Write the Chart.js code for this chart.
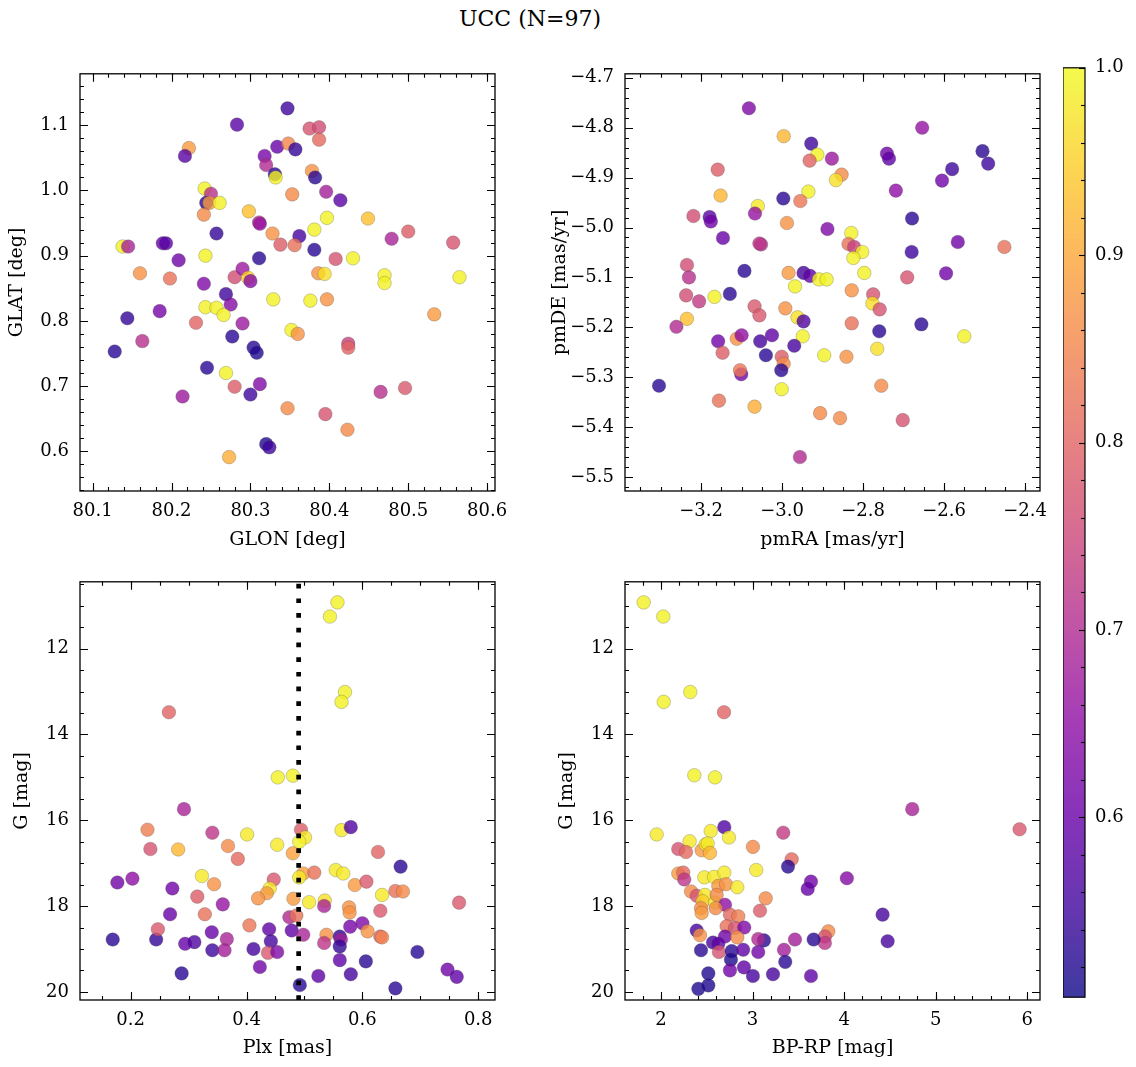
<!DOCTYPE html>
<html><head><meta charset="utf-8">
<script src="https://cdn.jsdelivr.net/npm/chart.js@4.4.1/dist/chart.umd.min.js"></script>
<style>
html,body{margin:0;padding:0;background:#fff;width:1136px;height:1067px;overflow:hidden}
.box{position:absolute}
#title{position:absolute;left:0;width:1060px;top:6px;text-align:center;font:22px "DejaVu Serif",serif;color:#000}
</style></head><body>
<div id="title">UCC (N=97)</div>
<script>
// ---------------- DATA ----------------
const glon = [80.347,80.283,80.375,80.387,80.387,80.222,80.217,80.334,80.348,80.357,80.318,80.320,80.331,80.332,80.378,80.382,80.396,80.414,80.242,80.250,80.244,80.248,80.261,80.353,80.241,80.298,80.311,80.312,80.397,80.449,80.381,80.328,80.257,80.362,80.338,80.356,80.381,80.500,80.479,80.557,80.138,80.145,80.189,80.193,80.311,80.243,80.209,80.408,80.430,80.160,80.198,80.280,80.290,80.297,80.300,80.386,80.394,80.470,80.470,80.565,80.241,80.269,80.275,80.243,80.257,80.266,80.329,80.376,80.397,80.533,80.144,80.185,80.231,80.290,80.277,80.352,80.360,80.128,80.163,80.304,80.308,80.424,80.424,80.245,80.269,80.280,80.312,80.300,80.214,80.465,80.496,80.347,80.395,80.423,80.320,80.324,80.273];
const glat = [1.126,1.101,1.095,1.097,1.078,1.065,1.053,1.067,1.072,1.063,1.053,1.039,1.025,1.020,1.030,1.020,0.998,0.985,1.003,0.995,0.981,0.981,0.981,0.994,0.963,0.968,0.951,0.949,0.958,0.957,0.940,0.934,0.934,0.930,0.917,0.916,0.909,0.937,0.926,0.920,0.914,0.914,0.919,0.919,0.896,0.900,0.893,0.895,0.896,0.873,0.865,0.867,0.880,0.866,0.861,0.873,0.872,0.870,0.858,0.867,0.857,0.841,0.825,0.821,0.820,0.809,0.833,0.831,0.833,0.810,0.804,0.815,0.797,0.796,0.776,0.786,0.780,0.753,0.769,0.759,0.751,0.765,0.759,0.728,0.720,0.699,0.703,0.687,0.684,0.691,0.697,0.666,0.657,0.633,0.611,0.606,0.591];
const probSky = [0.55,0.58,0.77,0.76,0.81,0.88,0.58,0.60,0.85,0.54,0.62,0.70,0.53,0.99,0.87,0.53,0.68,0.58,0.99,0.71,0.53,0.88,0.99,0.86,0.86,0.93,0.72,0.66,0.99,0.93,0.99,0.87,0.54,0.56,0.79,0.82,0.53,0.79,0.69,0.77,0.99,0.69,0.60,0.58,0.53,0.99,0.61,0.77,0.99,0.87,0.82,0.76,0.67,0.95,0.64,0.87,0.97,0.99,0.99,0.99,0.63,0.55,0.64,0.99,0.99,0.99,0.99,0.99,0.87,0.88,0.54,0.62,0.80,0.67,0.53,0.99,0.87,0.53,0.71,0.53,0.52,0.74,0.80,0.53,0.99,0.79,0.63,0.55,0.67,0.71,0.78,0.86,0.77,0.86,0.52,0.55,0.91];

const pmra = [-3.082,-2.654,-2.996,-2.928,-2.913,-2.932,-2.877,-2.741,-2.736,-2.505,-2.491,-2.580,-2.605,-3.159,-2.853,-2.867,-2.719,-3.152,-2.935,-2.997,-2.955,-3.060,-3.067,-3.219,-3.179,-3.176,-2.679,-2.988,-2.888,-2.829,-3.146,-2.566,-3.052,-3.056,-2.836,-2.822,-2.802,-2.824,-2.451,-2.680,-3.235,-3.230,-3.093,-2.984,-2.947,-2.931,-2.797,-2.909,-2.890,-2.691,-2.595,-2.968,-3.237,-3.205,-3.167,-3.129,-3.235,-3.261,-2.828,-2.775,-2.777,-2.759,-3.068,-3.056,-2.992,-2.962,-2.947,-2.828,-2.760,-2.656,-2.550,-3.158,-3.112,-3.100,-3.054,-3.025,-2.949,-2.970,-3.147,-3.040,-3.001,-2.996,-3.002,-2.896,-2.841,-2.765,-3.101,-3.104,-3.304,-3.001,-2.755,-3.156,-3.068,-2.906,-2.857,-2.702,-2.956];
const pmde = [-4.761,-4.800,-4.817,-4.832,-4.854,-4.866,-4.862,-4.852,-4.862,-4.847,-4.872,-4.883,-4.906,-4.884,-4.894,-4.905,-4.926,-4.936,-4.928,-4.942,-4.947,-4.957,-4.972,-4.977,-4.979,-4.988,-4.982,-4.991,-5.003,-5.011,-5.021,-5.029,-5.034,-5.032,-5.033,-5.039,-5.049,-5.061,-5.039,-5.049,-5.075,-5.100,-5.087,-5.091,-5.091,-5.097,-5.091,-5.104,-5.104,-5.100,-5.092,-5.118,-5.136,-5.148,-5.139,-5.133,-5.183,-5.199,-5.126,-5.134,-5.152,-5.164,-5.158,-5.176,-5.162,-5.180,-5.188,-5.192,-5.208,-5.194,-5.218,-5.228,-5.223,-5.216,-5.228,-5.216,-5.218,-5.237,-5.251,-5.256,-5.259,-5.273,-5.286,-5.256,-5.259,-5.243,-5.294,-5.286,-5.317,-5.324,-5.317,-5.347,-5.359,-5.372,-5.382,-5.386,-5.460];
const probPM = [0.63,0.66,0.92,0.55,0.99,0.80,0.67,0.61,0.59,0.53,0.55,0.55,0.61,0.79,0.86,0.97,0.65,0.92,0.99,0.53,0.83,0.98,0.66,0.76,0.58,0.61,0.53,0.87,0.63,0.99,0.60,0.61,0.71,0.72,0.82,0.74,0.99,0.99,0.82,0.55,0.76,0.71,0.53,0.88,0.56,0.59,0.99,0.99,0.99,0.77,0.61,0.99,0.76,0.73,0.99,0.53,0.93,0.70,0.87,0.77,0.97,0.77,0.78,0.78,0.87,0.97,0.57,0.82,0.53,0.53,0.99,0.61,0.87,0.65,0.56,0.59,0.99,0.56,0.79,0.53,0.79,0.86,0.53,0.99,0.87,0.97,0.61,0.83,0.53,0.99,0.86,0.82,0.91,0.86,0.86,0.77,0.70];

const plx = [0.557,0.544,0.570,0.564,0.266,0.454,0.480,0.292,0.229,0.234,0.282,0.341,0.368,0.385,0.401,0.453,0.480,0.494,0.501,0.491,0.564,0.580,0.627,0.666,0.177,0.203,0.272,0.323,0.344,0.315,0.359,0.447,0.440,0.435,0.420,0.498,0.491,0.517,0.481,0.508,0.554,0.567,0.587,0.607,0.535,0.534,0.634,0.657,0.670,0.767,0.169,0.244,0.247,0.268,0.294,0.310,0.328,0.340,0.341,0.366,0.362,0.405,0.412,0.423,0.439,0.442,0.437,0.453,0.474,0.486,0.478,0.498,0.492,0.524,0.538,0.534,0.561,0.563,0.561,0.561,0.579,0.577,0.578,0.580,0.600,0.609,0.606,0.631,0.631,0.634,0.657,0.695,0.747,0.763,0.288];
const gPlx = [10.92,11.25,13.01,13.24,13.48,15.00,14.96,15.74,16.22,16.67,16.68,16.29,16.60,16.90,16.33,16.57,16.77,16.22,16.40,16.50,16.23,16.16,16.74,17.08,17.45,17.36,17.59,17.30,17.49,17.78,17.96,17.38,17.59,17.70,17.82,17.24,17.33,17.22,17.83,17.91,17.16,17.24,17.51,17.43,17.87,18.00,17.74,17.65,17.66,17.92,18.78,18.78,18.54,18.19,18.88,18.84,18.19,18.61,19.03,18.77,19.03,18.45,19.00,19.42,18.54,18.82,19.09,19.07,18.26,18.22,18.57,18.67,19.84,19.63,18.67,18.86,18.71,18.78,18.94,19.26,18.48,18.03,18.15,19.59,18.40,18.59,19.29,18.11,18.71,18.73,19.92,19.07,19.48,19.65,19.57];
const probPlx = [0.99,0.99,0.99,0.99,0.80,0.99,0.99,0.69,0.84,0.77,0.92,0.72,0.86,0.81,0.98,0.98,0.89,0.79,0.98,0.99,0.98,0.57,0.80,0.53,0.61,0.65,0.61,0.98,0.87,0.79,0.66,0.78,0.98,0.88,0.87,0.89,0.98,0.82,0.88,0.98,0.98,0.98,0.88,0.78,0.97,0.69,0.98,0.82,0.86,0.78,0.53,0.54,0.78,0.60,0.60,0.57,0.82,0.60,0.55,0.69,0.68,0.83,0.56,0.61,0.59,0.56,0.78,0.63,0.70,0.82,0.59,0.69,0.53,0.59,0.87,0.72,0.53,0.68,0.54,0.59,0.62,0.87,0.87,0.56,0.63,0.87,0.53,0.78,0.80,0.85,0.53,0.53,0.61,0.59,0.53];
const plxRef = 0.49;

const bprp = [1.811,2.025,2.320,2.030,2.688,2.364,2.590,4.744,5.916,1.953,2.691,2.543,2.742,2.313,3.335,2.189,2.273,2.444,2.488,2.510,2.535,3.004,3.427,3.387,3.040,2.189,2.243,2.254,2.473,2.579,2.691,2.626,2.710,2.833,3.638,3.602,4.030,2.328,2.390,2.480,2.455,2.590,2.608,2.699,2.597,2.437,2.444,3.143,3.081,2.753,2.844,4.420,2.390,2.426,2.717,2.808,2.909,2.699,2.833,3.827,3.790,3.790,3.667,3.463,3.124,3.062,4.475,2.568,2.626,2.437,2.633,2.772,2.898,3.062,3.343,2.764,3.357,2.753,2.906,2.517,3.004,3.223,3.638,2.408,2.517];
const gCol = [10.92,11.25,13.01,13.24,13.48,14.95,15.00,15.74,16.21,16.33,16.16,16.25,16.40,16.49,16.29,16.67,16.74,16.70,16.56,16.54,16.76,16.62,16.91,17.08,17.16,17.24,17.22,17.38,17.33,17.32,17.22,17.53,17.49,17.56,17.43,17.60,17.35,17.66,17.76,17.74,17.89,17.92,17.74,17.97,18.05,18.05,18.16,17.82,18.11,18.20,18.24,18.20,18.57,18.68,18.47,18.51,18.50,18.71,18.73,18.59,18.71,18.86,18.78,18.78,18.80,18.77,18.82,18.85,18.88,19.03,19.07,19.05,19.02,19.07,19.02,19.25,19.30,19.50,19.43,19.57,19.63,19.59,19.63,19.93,19.85];
const probCol = [0.99,0.99,0.99,0.99,0.80,0.99,0.99,0.69,0.78,0.98,0.57,0.98,0.98,0.98,0.73,0.77,0.81,0.88,0.98,0.98,0.92,0.86,0.81,0.53,0.98,0.88,0.81,0.72,0.98,0.98,0.98,0.88,0.87,0.98,0.61,0.60,0.64,0.86,0.77,0.98,0.95,0.98,0.86,0.65,0.86,0.86,0.88,0.86,0.79,0.81,0.84,0.56,0.56,0.87,0.82,0.77,0.63,0.61,0.86,0.86,0.77,0.72,0.53,0.68,0.53,0.70,0.56,0.56,0.59,0.53,0.77,0.53,0.59,0.61,0.68,0.52,0.53,0.61,0.59,0.52,0.56,0.56,0.59,0.52,0.52];

const glonTicks = [80.1,80.2,80.3,80.4,80.5,80.6];
const glatTicks = [0.6,0.7,0.8,0.9,1.0,1.1];
const pmraTicks = [-3.2,-3.0,-2.8,-2.6,-2.4];
const pmdeTicks = [-5.5,-5.4,-5.3,-5.2,-5.1,-5.0,-4.9,-4.8,-4.7];
const plxTicks = [0.2,0.4,0.6,0.8];
const gTicks = [12,14,16,18,20];
const bprpTicks = [2,3,4,5,6];
const cbarTicks = [0.6,0.7,0.8,0.9,1.0];

// ---------------- STYLE ----------------
const FAM = '"DejaVu Serif", serif';
const TICK_FS = 18, TITLE_FS = 19;
const VMIN = 0.504, VMAX = 1.0, ALPHA = 0.8;
const PL = [[13,8,135],[65,4,157],[106,0,168],[143,13,164],[177,42,144],[204,71,120],[225,100,98],[242,132,75],[252,166,54],[252,206,37],[240,249,33]];
function plasma(t){
  t = Math.max(0, Math.min(1, t));
  const f = t*10, i = Math.min(9, Math.floor(f)), u = f - i;
  const a = PL[i], b = PL[i+1];
  return [0,1,2].map(k => a[k] + (b[k]-a[k])*u);
}
function cmap(p, alpha){
  const c = plasma((p - VMIN)/(VMAX - VMIN)).map(Math.round);
  return `rgba(${c[0]},${c[1]},${c[2]},${alpha})`;
}
function cmapOnWhite(p, alpha){
  const c = plasma((p - VMIN)/(VMAX - VMIN)).map(v => Math.round(alpha*v + (1-alpha)*255));
  return `rgb(${c[0]},${c[1]},${c[2]})`;
}
function fmt(d){ return v => { const s = Math.abs(v).toFixed(d); return (v < -1e-9 ? '\u2212' : '') + s; }; }
function range(a, b, step){ const out=[]; const n=Math.round((b-a)/step); for(let i=0;i<=n;i++) out.push(+(a+i*step).toFixed(6)); return out; }

const framePlugin = {
  id: 'frame',
  afterDraw(chart) {
    const o = chart.options.plugins.frame;
    if (!o) return;
    const {ctx, chartArea: a} = chart;
    const xs = chart.scales.x, ys = chart.scales.y;
    ctx.save();
    ctx.strokeStyle = '#000';
    ctx.lineWidth = 1.3;
    ctx.strokeRect(a.left, a.top, a.right - a.left, a.bottom - a.top);
    ctx.lineWidth = 1.1;
    const drawX = (vals, len) => {
      vals.forEach(v => {
        if (v < Math.min(xs.min, xs.max) || v > Math.max(xs.min, xs.max)) return;
        const p = Math.round(xs.getPixelForValue(v)) + 0.5;
        ctx.beginPath();
        ctx.moveTo(p, a.bottom); ctx.lineTo(p, a.bottom - len);
        ctx.moveTo(p, a.top); ctx.lineTo(p, a.top + len);
        ctx.stroke();
      });
    };
    const drawY = (vals, len) => {
      vals.forEach(v => {
        if (v < Math.min(ys.min, ys.max) || v > Math.max(ys.min, ys.max)) return;
        const p = Math.round(ys.getPixelForValue(v)) + 0.5;
        ctx.beginPath();
        ctx.moveTo(a.left, p); ctx.lineTo(a.left + len, p);
        ctx.moveTo(a.right, p); ctx.lineTo(a.right - len, p);
        ctx.stroke();
      });
    };
    drawX(o.xMajor, 8); drawX(o.xMinor, 4);
    drawY(o.yMajor, 8); drawY(o.yMinor, 4);
    ctx.restore();
  }
};

function axisCfg(ax, isX, sizeFn){
  return {
    type: 'linear', min: ax.min, max: ax.max, reverse: !!ax.reverse,
    afterBuildTicks: s => { s.ticks = ax.major.map(v => ({value: v})); },
    afterFit: sizeFn,
    ticks: { callback: ax.fmt, font: {family: FAM, size: TICK_FS}, color: '#000', padding: isX ? 10 : 11, maxRotation: 0, autoSkip: false },
    grid: { display: false, drawTicks: false },
    border: { display: false },
    title: { display: true, text: ax.title, font: {family: FAM, size: TITLE_FS}, color: '#000', padding: 0 }
  };
}

function makePanel(cfg){
  const lh = TITLE_FS * 1.2;
  const padTop = 20, padRight = 34;
  const cl = Math.round(cfg.yTitleX - lh/2);
  const ct = cfg.area.T - padTop;
  const cw = cfg.area.R + padRight - cl;
  const ch = Math.round(cfg.xTitleY + lh/2) - ct;
  const yW = cfg.area.L - cl;
  const xH = ct + ch - cfg.area.B;
  const div = document.createElement('div');
  div.className = 'box';
  div.style.left = cl + 'px'; div.style.top = ct + 'px';
  div.style.width = cw + 'px'; div.style.height = ch + 'px';
  const cv = document.createElement('canvas');
  cv.width = cw; cv.height = ch;
  cv.style.width = cw + 'px'; cv.style.height = ch + 'px';
  div.appendChild(cv);
  document.body.appendChild(div);
  const pts = cfg.xs.map((x, i) => ({x, y: cfg.ys[i]}));
  const datasets = (cfg.extra || []).concat([{
    type: 'scatter', data: pts, order: 1,
    pointRadius: 6.8, pointHoverRadius: 6.8,
    pointBackgroundColor: cfg.ps.map(p => cmap(p, ALPHA)),
    pointBorderColor: 'rgba(70,70,70,0.45)', pointBorderWidth: 0.6
  }]);
  new Chart(cv, {
    type: 'scatter',
    data: { datasets },
    options: {
      responsive: false, animation: false, devicePixelRatio: 1,
      layout: { padding: { left: 0, top: padTop, right: padRight, bottom: 0 } },
      plugins: { legend: {display: false}, tooltip: {enabled: false},
        frame: { xMajor: cfg.x.major, xMinor: cfg.x.minor, yMajor: cfg.y.major, yMinor: cfg.y.minor } },
      scales: {
        x: axisCfg(cfg.x, true, s => { s.height = xH; }),
        y: axisCfg(cfg.y, false, s => { s.width = yW; })
      }
    },
    plugins: [framePlugin]
  });
}

Chart.defaults.font.family = FAM;

makePanel({
  area: {L: 80, T: 72, R: 495, B: 491}, xTitleY: 540, yTitleX: 17,
  x: {min: 80.084, max: 80.61, major: glonTicks, minor: range(80.08, 80.62, 0.02), fmt: fmt(1), title: 'GLON [deg]'},
  y: {min: 0.539, max: 1.179, major: glatTicks, minor: range(0.54, 1.18, 0.02), fmt: fmt(1), title: 'GLAT [deg]'},
  xs: glon, ys: glat, ps: probSky
});
makePanel({
  area: {L: 625, T: 72, R: 1040, B: 491}, xTitleY: 540, yTitleX: 560,
  x: {min: -3.388, max: -2.363, major: pmraTicks, minor: range(-3.4, -2.35, 0.05), fmt: fmt(1), title: 'pmRA [mas/yr]'},
  y: {min: -5.528, max: -4.692, major: pmdeTicks, minor: range(-5.52, -4.70, 0.02), fmt: fmt(1), title: 'pmDE [mas/yr]'},
  xs: pmra, ys: pmde, ps: probPM
});
const G_MIN = 10.44, G_MAX = 20.19;
makePanel({
  area: {L: 80, T: 580, R: 495, B: 1000}, xTitleY: 1048, yTitleX: 22,
  x: {min: 0.1125, max: 0.829, major: plxTicks, minor: range(0.15, 0.80, 0.05), fmt: fmt(1), title: 'Plx [mas]'},
  y: {min: G_MIN, max: G_MAX, reverse: true, major: gTicks, minor: range(10.5, 20.0, 0.5), fmt: fmt(0), title: 'G [mag]'},
  xs: plx, ys: gPlx, ps: probPlx,
  extra: [{ type: 'line', order: 0, data: [{x: plxRef, y: G_MAX}, {x: plxRef, y: G_MIN}],
    borderColor: '#000', borderWidth: 4.7, borderDash: [4.7, 10], borderCapStyle: 'butt',
    pointRadius: 0, fill: false, showLine: true }]
});
makePanel({
  area: {L: 625, T: 580, R: 1040, B: 1000}, xTitleY: 1048, yTitleX: 567,
  x: {min: 1.607, max: 6.139, major: bprpTicks, minor: range(1.8, 6.0, 0.2), fmt: fmt(0), title: 'BP-RP [mag]'},
  y: {min: G_MIN, max: G_MAX, reverse: true, major: gTicks, minor: range(10.5, 20.0, 0.5), fmt: fmt(0), title: 'G [mag]'},
  xs: bprp, ys: gCol, ps: probCol
});

// ---------------- COLORBAR ----------------
(function(){
  const L = 1063, R = 1085, T = 67, B = 998, pad = 20;
  const cl = L, ct = T - pad, cw = 1136 - L, ch = (B + pad) - ct;
  const div = document.createElement('div');
  div.className = 'box';
  div.style.left = cl + 'px'; div.style.top = ct + 'px';
  div.style.width = cw + 'px'; div.style.height = ch + 'px';
  const cv = document.createElement('canvas');
  cv.width = cw; cv.height = ch; cv.style.width = cw + 'px'; cv.style.height = ch + 'px';
  div.appendChild(cv); document.body.appendChild(div);
  const levels = range(VMIN, VMAX, (VMAX - VMIN) / 256);
  const cbPlugin = {
    id: 'cb',
    beforeDatasetsDraw(chart){
      const {ctx, chartArea: a} = chart; const ys = chart.scales.y;
      ctx.save();
      ctx.beginPath(); ctx.rect(a.left, a.top, a.right - a.left, a.bottom - a.top); ctx.clip();
      for (let i = 0; i < levels.length - 1; i++) {
        const y0 = ys.getPixelForValue(levels[i]), y1 = ys.getPixelForValue(levels[i+1]);
        ctx.fillStyle = cmapOnWhite((levels[i] + levels[i+1]) / 2, ALPHA);
        ctx.fillRect(a.left, Math.min(y0, y1) - 0.6, a.right - a.left, Math.abs(y1 - y0) + 1.2);
      }
      ctx.restore();
    },
    afterDraw(chart){
      const {ctx, chartArea: a} = chart; const ys = chart.scales.y;
      ctx.save(); ctx.strokeStyle = '#000'; ctx.lineWidth = 1.2;
      ctx.strokeRect(a.left, a.top, a.right - a.left, a.bottom - a.top);
      ctx.lineWidth = 1.1;
      const tick = (v, len) => { const p = Math.round(ys.getPixelForValue(v)) + 0.5;
        ctx.beginPath(); ctx.moveTo(a.right, p); ctx.lineTo(a.right - len, p); ctx.stroke(); };
      cbarTicks.forEach(v => tick(v, 6));
      range(0.52, 0.98, 0.02).forEach(v => { if (cbarTicks.every(t => Math.abs(t - v) > 1e-6)) tick(v, 4); });
      ctx.restore();
    }
  };
  new Chart(cv, {
    type: 'scatter',
    data: { datasets: [] },
    options: {
      responsive: false, animation: false, devicePixelRatio: 1,
      layout: { padding: { left: 0, top: pad, right: 0, bottom: pad } },
      plugins: { legend: {display: false}, tooltip: {enabled: false} },
      scales: {
        x: { display: false, min: 0, max: 1 },
        y: { type: 'linear', position: 'right', min: VMIN, max: VMAX,
          afterBuildTicks: s => { s.ticks = cbarTicks.map(v => ({value: v})); },
          afterFit: s => { s.width = cw - (R - L); },
          ticks: { callback: fmt(1), font: {family: FAM, size: TICK_FS}, color: '#000', padding: 10 },
          grid: { display: false, drawTicks: false }, border: { display: false } }
      }
    },
    plugins: [cbPlugin]
  });
})();
</script>
</body></html>
